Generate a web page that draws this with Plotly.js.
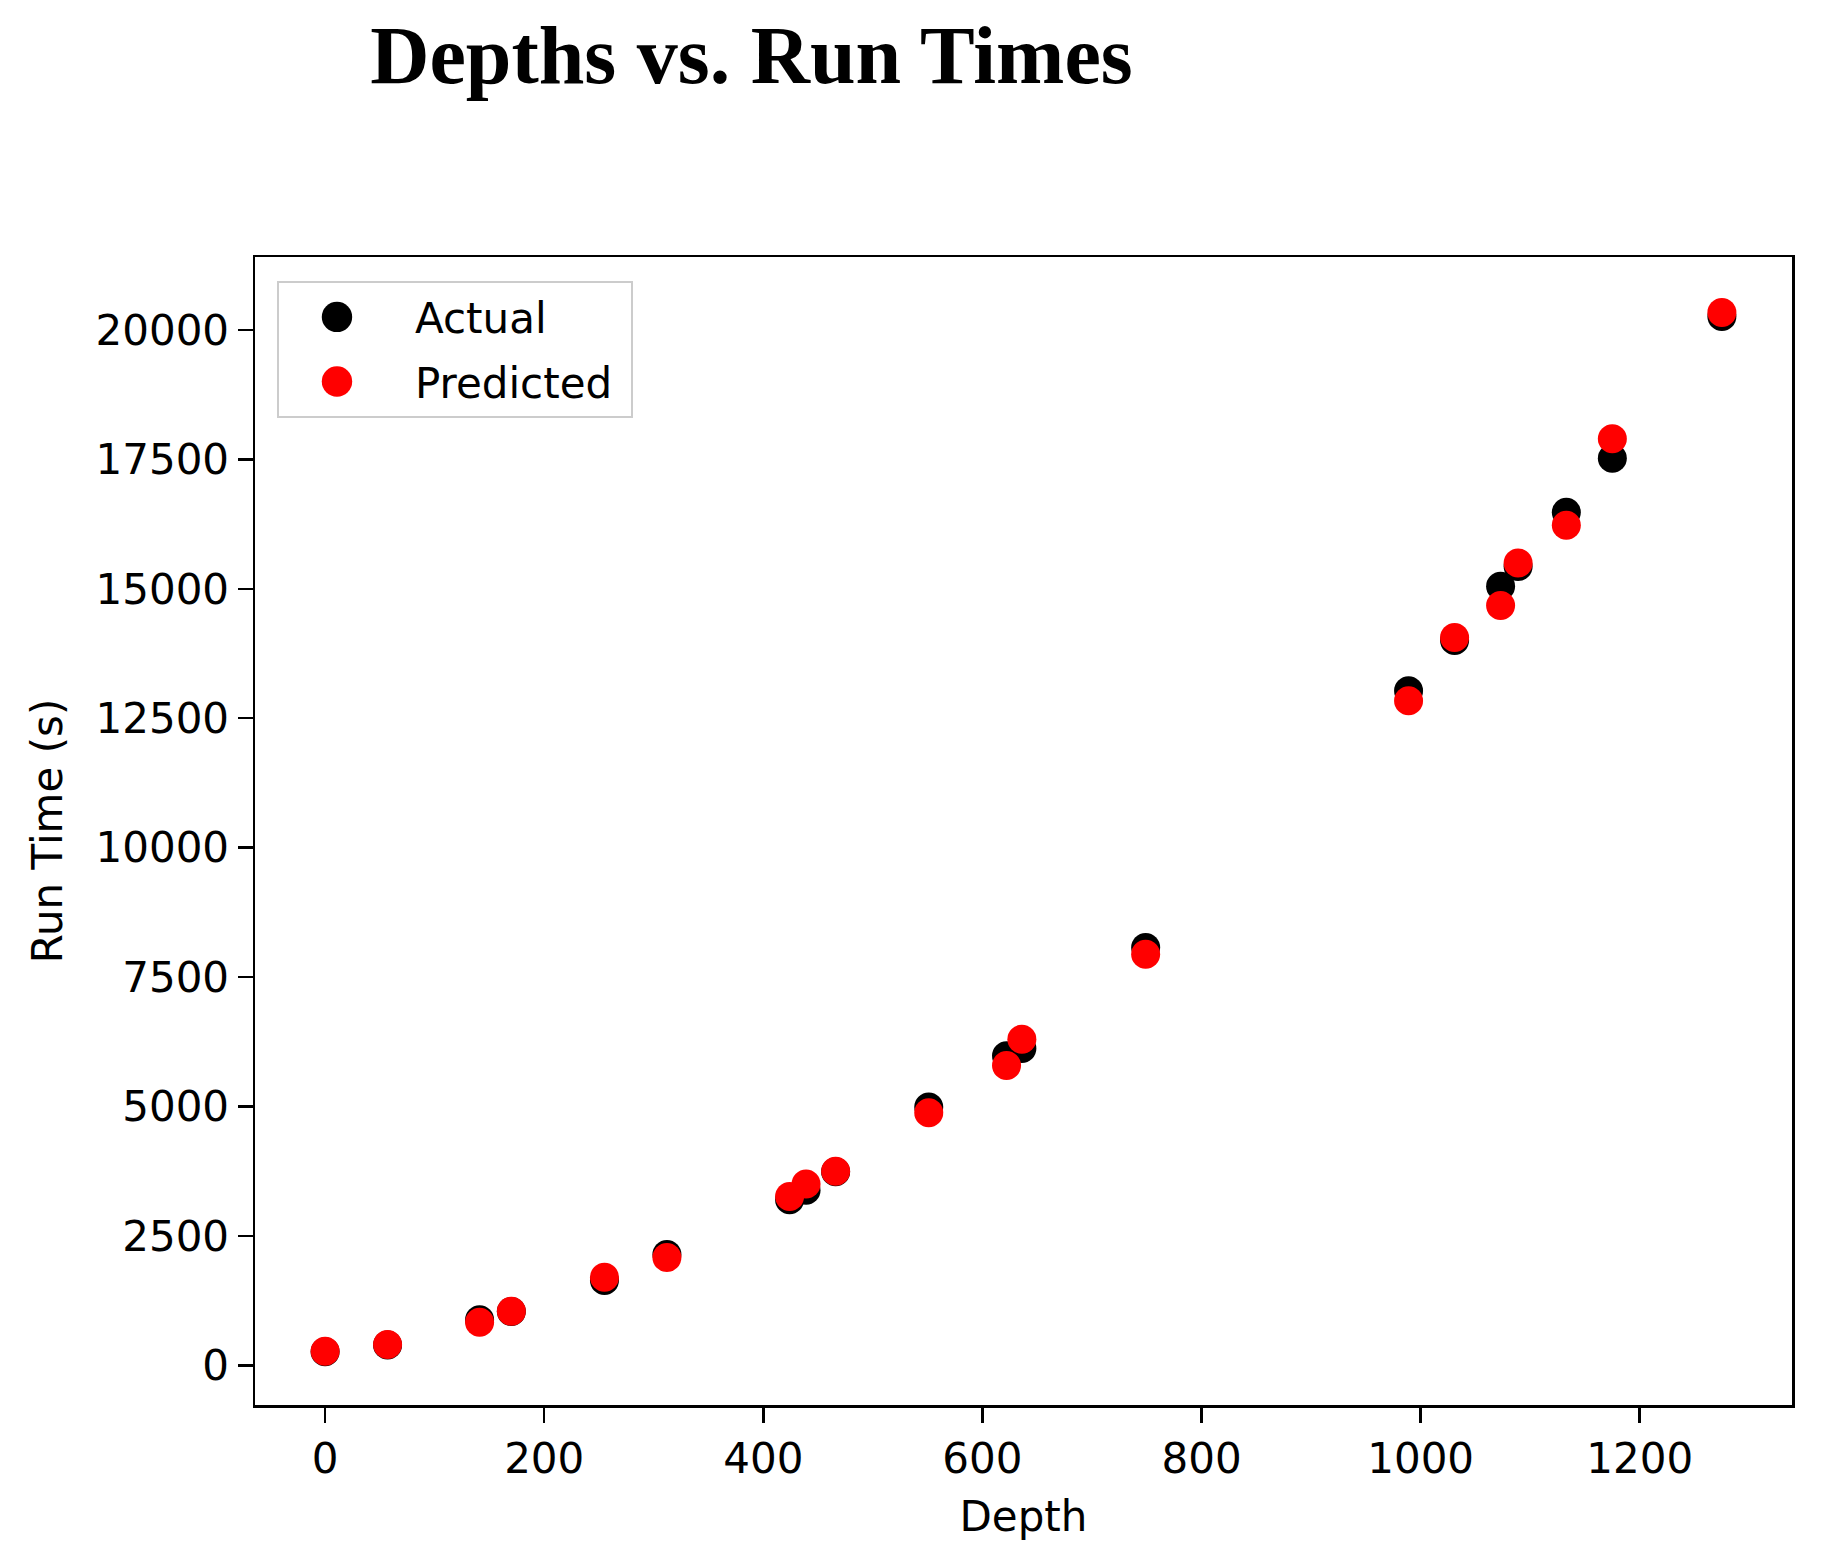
<!DOCTYPE html>
<html>
<head>
<meta charset="utf-8">
<script src="https://cdn.plot.ly/plotly-3.0.1.min.js"></script>
<style>
    html, body { margin: 0; padding: 0; background: #ffffff; }
    #depth-chart { width: 1824px; height: 1565px; }
</style>
</head>
<body>
<div id="depth-chart"></div>
<script>
const depths = [0, 57, 141, 170, 255, 312, 424, 439, 466, 551, 622, 636, 749, 989, 1031, 1073, 1089, 1133, 1175, 1275];
const actualTimes = [260, 390, 880, 1040, 1640, 2140, 3200, 3380, 3740, 4990, 5980, 6120, 8070, 13030, 14000, 15050, 15430, 16480, 17520, 20260];
const predictedTimes = [270, 400, 830, 1045, 1700, 2080, 3260, 3500, 3750, 4880, 5790, 6300, 7940, 12840, 14060, 14680, 15500, 16230, 17900, 20340];
const seriesNames = ['Actual', 'Predicted'];
const seriesColors = ['#000000', '#ff0000'];
const xTicks = [0, 200, 400, 600, 800, 1000, 1200];
const yTicks = [0, 2500, 5000, 7500, 10000, 12500, 15000, 17500, 20000];

window.onload = () => {
    const chart = new DepthChart;
    const chartDocument = document.getElementById('depth-chart');
    Plotly.newPlot(chartDocument, chart.traces, chart.layout, {staticPlot: true}).then(() => {
        // matplotlib draws the legend dots as big as the plotted ones, a bit more to the left
        chartDocument.querySelectorAll('.legend .legendpoints path.scatterpts').forEach((p) => {
            const t = p.getAttribute('transform') || '';
            p.setAttribute('transform', t + ' translate(-10,0) scale(1.9)');
        });
        // and leaves some room right of the text
        const bg = chartDocument.querySelector('.legend rect.bg');
        if (bg) {
            bg.setAttribute('width', parseFloat(bg.getAttribute('width')) + 13);
        }
    });
};

class DepthChart {
    get traces() {
        return [actualTimes, predictedTimes].map((times, i) => ({
            x: depths,
            y: times,
            name: seriesNames[i],
            legendgroup: seriesNames[i],
            type: 'scatter',
            mode: 'markers',
            marker: {
                color: seriesColors[i],
                size: 29,
                line: {width: 0}
            }
        }));
    }
    get layout() {
        const tickFont = {family: 'DejaVu Sans', size: 42, color: '#000000'};
        const axisBase = {
            showline: true,
            mirror: true,
            linecolor: '#000000',
            linewidth: 2.5,
            showgrid: false,
            zeroline: false,
            ticks: 'outside',
            ticklen: 15,
            tickwidth: 2.5,
            tickcolor: '#000000',
            tickfont: tickFont
        };
        return {
            width: 1824,
            height: 1565,
            paper_bgcolor: '#ffffff',
            plot_bgcolor: '#ffffff',
            font: {family: 'DejaVu Sans', size: 42, color: '#000000'},
            margin: {l: 255, r: 32, t: 257, b: 160, autoexpand: false},
            title: {
                text: '<b>Depths vs. Run Times</b>',
                font: {family: 'Liberation Serif', size: 82, color: '#000000'},
                xref: 'container',
                yref: 'container',
                x: 0.412,
                y: 0.965,
                xanchor: 'center',
                yanchor: 'middle'
            },
            xaxis: Object.assign({}, axisBase, {
                range: [-64, 1339],
                tickvals: xTicks,
                ticktext: xTicks.map(String),
                title: {text: 'Depth', font: tickFont, standoff: 20}
            }),
            yaxis: Object.assign({}, axisBase, {
                range: [-767, 21410],
                tickvals: yTicks,
                ticktext: yTicks.map(String),
                title: {text: 'Run Time (s)', font: tickFont, standoff: 20}
            }),
            showlegend: true,
            legend: {
                x: 0.0143,
                y: 0.979,
                xanchor: 'left',
                yanchor: 'top',
                bgcolor: 'rgba(255,255,255,0.8)',
                bordercolor: '#cccccc',
                borderwidth: 2,
                font: {family: 'DejaVu Sans', size: 42, color: '#000000'},
                itemwidth: 126,
                tracegroupgap: 7,
                traceorder: 'grouped'
            }
        };
    }
}
</script>
</body>
</html>
